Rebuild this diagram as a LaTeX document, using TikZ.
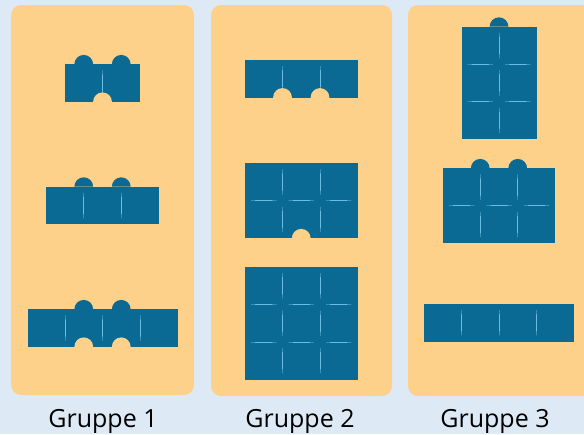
\documentclass[tikz,border=0pt]{standalone}
\usepackage{fontspec}
\setmainfont{Open Sans}
\usepackage{tikz}

\definecolor{bgblue}{HTML}{DDEAF6}
\definecolor{panelorange}{HTML}{FDD18A}
\definecolor{plateblue}{HTML}{0B6A94}
\definecolor{seamblue}{HTML}{6BBDE3}

\newcommand{\unitlen}{37.5}
\newcommand{\knobr}{9.4}
% plate: centre x, top y, columns, rows
\newcommand{\plate}[4]{%
  \pgfmathsetmacro{\px}{#1-#3*\unitlen/2}
  \pgfmathtruncatemacro{\lastc}{#3-1}
  \pgfmathtruncatemacro{\lastr}{#4-1}
  \fill[plate] (\px,#2) rectangle ++(#3*\unitlen,#4*\unitlen);
  \foreach \i in {1,...,\lastc}
    \foreach \j in {0,...,\lastr}{
      \draw[seamfaint] (\px+\i*\unitlen,#2+\j*\unitlen+0.17*\unitlen) -- ++(0,0.66*\unitlen);
      \draw[seam] (\px+\i*\unitlen,#2+\j*\unitlen+0.28*\unitlen) -- ++(0,0.44*\unitlen);}
  \ifnum#4>1
    \foreach \j in {1,...,\lastr}
      \foreach \i in {0,...,\lastc}{
        \draw[seamfaint] (\px+\i*\unitlen+0.17*\unitlen,#2+\j*\unitlen) -- ++(0.66*\unitlen,0);
        \draw[seam] (\px+\i*\unitlen+0.28*\unitlen,#2+\j*\unitlen) -- ++(0.44*\unitlen,0);}
  \fi}
\newcommand{\platebump}[2]{\fill[plate] (#1-\knobr,#2) arc[start angle=180,end angle=360,radius=\knobr] -- cycle;}
\newcommand{\platenotch}[2]{\fill[panelorange] (#1,#2) circle (\knobr);}

\begin{document}
\begin{tikzpicture}[x=1pt,y=-1pt,
    panel/.style={fill=panelorange,rounded corners=10pt},
    plate/.style={fill=plateblue},
    seam/.style={draw=seamblue,line width=1pt,line cap=round},
    seamfaint/.style={draw=seamblue!45!plateblue,line width=1pt,line cap=round},
    grouplabel/.style={font=\fontsize{25}{30}\selectfont,text=black,anchor=base}]
\useasboundingbox (0,0) rectangle (584,434);
\clip (0,0) rectangle (584,434);
\fill[bgblue] (0,0) rectangle (584,434);
\fill[panel] (11,5) rectangle (194,395);
\fill[panel] (211,5) rectangle (392,396);
\fill[panel] (408,5) rectangle (594,396);

% Gruppe 1
\plate{102.5}{64.3}{2}{1}
\platebump{83.75}{64.3} \platebump{121.25}{64.3}
\platenotch{102.5}{101.8}
\plate{102.5}{186.7}{3}{1}
\platebump{83.75}{186.7} \platebump{121.25}{186.7}
\plate{102.5}{309.3}{4}{1}
\platebump{83.75}{309.3} \platebump{121.25}{309.3}
\platenotch{83.75}{346.8} \platenotch{121.25}{346.8}

% Gruppe 2
\plate{301.25}{60}{3}{1}
\platenotch{282.5}{97.5} \platenotch{320}{97.5}
\plate{301.25}{163.3}{3}{2}
\platenotch{301.25}{238.3}
\plate{301.25}{267}{3}{3}

% Gruppe 3
\plate{499}{26.7}{2}{3}
\platebump{499}{26.7}
\plate{499}{168.3}{3}{2}
\platebump{480.25}{168.3} \platebump{517.75}{168.3}
\plate{499}{304}{4}{1}

\node[grouplabel] (g1) at (103,427) {Gruppe 1};
\node[grouplabel] (g2) at (300,427) {Gruppe 2};
\node[grouplabel] (g3) at (495,427) {Gruppe 3};
\end{tikzpicture}
\end{document}
